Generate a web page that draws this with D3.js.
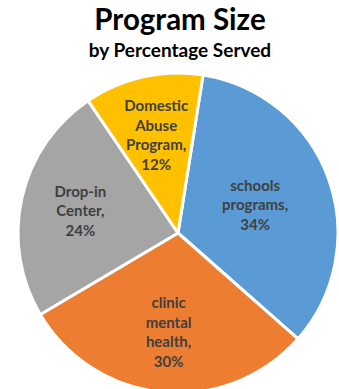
<!DOCTYPE html>
<html>
<head>
<meta charset="utf-8">
<script src="https://cdn.jsdelivr.net/npm/d3@7"></script>
<style>
  body { margin: 0; background: #fff; }
  text { font-family: Lato, "Open Sans", sans-serif; font-weight: bold; }
</style>
</head>
<body>
<svg width="339" height="389"></svg>
<script>
// chart data
const categories = ["schools programs", "clinic mental health", "Drop-in Center", "Domestic Abuse Program"];
const values = [34, 30, 24, 12];
const colors = ["#5B9BD5", "#ED7D31", "#A5A5A5", "#FFC000"];

const width = 339, height = 389;
const cx = 178, cy = 233, radius = 160;

const svg = d3.select("svg")
  .attr("width", width)
  .attr("height", height);

// titles
svg.append("text")
  .attr("x", 180)
  .attr("y", 30)
  .attr("text-anchor", "middle")
  .attr("font-size", 29.5)
  .attr("fill", "#000")
  .text("Program Size");

svg.append("text")
  .attr("x", 180)
  .attr("y", 57)
  .attr("text-anchor", "middle")
  .attr("font-size", 19)
  .attr("fill", "#000")
  .text("by Percentage Served");

const data = categories.map((c, i) => ({ name: c, value: values[i], color: colors[i] }));

// pie starts a little past 12 o'clock, clockwise
const startDeg = 9;
const pie = d3.pie()
  .value(d => d.value)
  .sort(null)
  .startAngle(startDeg * Math.PI / 180)
  .endAngle((startDeg + 360) * Math.PI / 180);

const arc = d3.arc().innerRadius(0).outerRadius(radius);
const labelArc = d3.arc().innerRadius(100).outerRadius(100);
// the widest slice gets its label pulled in a bit, like the original
const bigArc = d3.arc().innerRadius(82).outerRadius(82);

const g = svg.append("g")
  .attr("transform", "translate(" + cx + "," + cy + ")");

const slices = g.selectAll("g.slice")
  .data(pie(data))
  .enter().append("g")
  .attr("class", "slice");

slices.append("path")
  .attr("d", arc)
  .attr("fill", d => d.data.color)
  .attr("stroke", "#fff")
  .attr("stroke-width", 3)
  .attr("stroke-linejoin", "round");

// labels: words on their own lines, then the percentage
const lineH = 19.5;
const maxVal = d3.max(values);
slices.append("text")
  .attr("transform", d => "translate(" + (d.data.value === maxVal ? bigArc : labelArc).centroid(d) + ")")
  .attr("text-anchor", "middle")
  .attr("font-size", 15)
  .attr("fill", "#404040")
  .each(function(d) {
    const words = d.data.name.split(" ");
    words[words.length - 1] += ",";
    const lines = words.concat([d.data.value + "%"]);
    const t = d3.select(this);
    const y0 = -(lines.length - 1) * lineH / 2 + 5;
    lines.forEach((l, i) => {
      t.append("tspan")
        .attr("x", 0)
        .attr("y", y0 + i * lineH)
        .text(l);
    });
  });
</script>
</body>
</html>
